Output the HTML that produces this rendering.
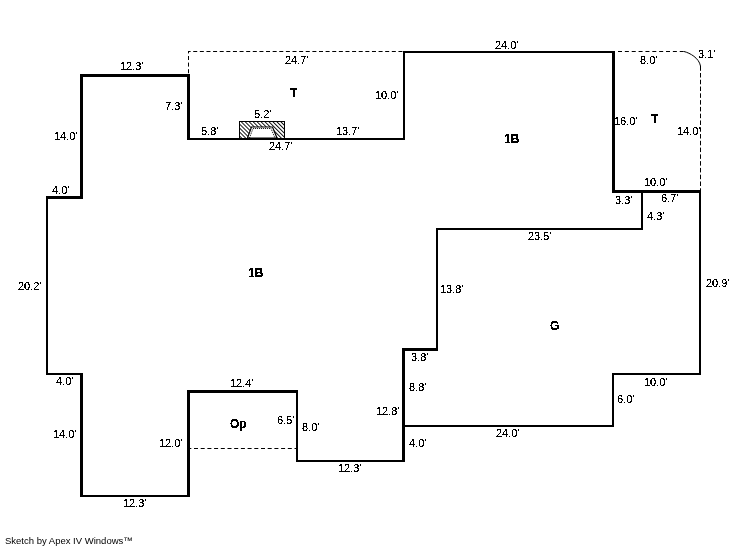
<!DOCTYPE html>
<html><head><meta charset="utf-8"><style>
html,body{margin:0;padding:0;background:#fff;width:746px;height:547px;overflow:hidden;position:relative}
.l{position:absolute;background:#000}
.t{position:absolute;line-height:13px;white-space:nowrap;color:#000;font-family:"Liberation Sans",sans-serif}
svg.d{position:absolute;left:0;top:0}
</style></head><body>

<svg class="d" width="746" height="547" viewBox="0 0 746 547">
<defs>
<pattern id="h" patternUnits="userSpaceOnUse" width="2.8" height="2.8" patternTransform="rotate(-45)">
<rect x="0" y="0" width="0.9" height="2.8" fill="#000"/>
</pattern>
</defs>
<g stroke="#000" stroke-width="1" fill="none">
<path d="M188 51.5 H403" stroke-dasharray="4 2.62" stroke-dashoffset="1.4"/>
<path d="M188.5 51 V74" stroke-dasharray="4 2.6" stroke-dashoffset="1.6"/>
<path d="M618 51.5 H684" stroke-dasharray="4 2.86"/>
<path d="M684 51.5 C690 53 699 58 700.5 66 V70.8"/>
<path d="M700.5 73 V190" stroke-dasharray="4.5 2.28"/>
<path d="M187.3 448.5 H296" stroke-dasharray="4 2.7"/>
</g>
<rect x="239.5" y="121.5" width="45" height="17" fill="url(#h)" stroke="#000" stroke-width="1"/>
<path d="M247.5 138 L251.5 127 H272.5 L277 138 Z" fill="#fff" stroke="#000" stroke-width="1.2"/>
<path d="M249.5 138 L253 128.5 H271 L275 138" fill="none" stroke="#000" stroke-width="1" stroke-dasharray="1 1"/>
</svg>

<div class="l" style="left:80px;top:74px;width:110px;height:3px"></div>
<div class="l" style="left:187px;top:74px;width:3px;height:66px"></div>
<div class="l" style="left:187px;top:138px;width:218px;height:2px"></div>
<div class="l" style="left:403px;top:51px;width:2px;height:89px"></div>
<div class="l" style="left:403px;top:51px;width:212px;height:2px"></div>
<div class="l" style="left:612px;top:51px;width:3px;height:142px"></div>
<div class="l" style="left:612px;top:190px;width:89px;height:3px"></div>
<div class="l" style="left:699px;top:190px;width:2px;height:185px"></div>
<div class="l" style="left:612px;top:373px;width:89px;height:2px"></div>
<div class="l" style="left:612px;top:373px;width:2px;height:54px"></div>
<div class="l" style="left:402px;top:425px;width:212px;height:2px"></div>
<div class="l" style="left:402px;top:348px;width:3px;height:114px"></div>
<div class="l" style="left:402px;top:348px;width:36px;height:3px"></div>
<div class="l" style="left:436px;top:228px;width:2px;height:123px"></div>
<div class="l" style="left:436px;top:228px;width:207px;height:2px"></div>
<div class="l" style="left:641px;top:190px;width:2px;height:40px"></div>
<div class="l" style="left:296px;top:460px;width:109px;height:2px"></div>
<div class="l" style="left:296px;top:390px;width:2px;height:72px"></div>
<div class="l" style="left:187px;top:390px;width:111px;height:3px"></div>
<div class="l" style="left:187px;top:390px;width:3px;height:107px"></div>
<div class="l" style="left:80px;top:495px;width:110px;height:2px"></div>
<div class="l" style="left:80px;top:373px;width:3px;height:124px"></div>
<div class="l" style="left:46px;top:373px;width:37px;height:2px"></div>
<div class="l" style="left:46px;top:196px;width:2px;height:179px"></div>
<div class="l" style="left:46px;top:196px;width:37px;height:3px"></div>
<div class="l" style="left:80px;top:74px;width:3px;height:125px"></div>
<svg width="0" height="0" style="position:absolute"><filter id="th" x="0" y="0" width="100%" height="100%"><feComponentTransfer><feFuncA type="discrete" tableValues="0 0 1 1 1"/></feComponentTransfer></filter></svg>
<div id="tx" style="position:absolute;left:0;top:0;width:746px;height:547px;filter:url(#th)">
<div class="t" style="left:120px;top:60px;font-size:11px;">12.3'</div>
<div class="t" style="left:165px;top:100px;font-size:11px;">7.3'</div>
<div class="t" style="left:54px;top:130px;font-size:11px;">14.0'</div>
<div class="t" style="left:52px;top:184px;font-size:11px;">4.0'</div>
<div class="t" style="left:18px;top:280px;font-size:11px;">20.2'</div>
<div class="t" style="left:56px;top:375px;font-size:11px;">4.0'</div>
<div class="t" style="left:53px;top:428px;font-size:11px;">14.0'</div>
<div class="t" style="left:123px;top:497px;font-size:11px;">12.3'</div>
<div class="t" style="left:201px;top:125px;font-size:11px;">5.8'</div>
<div class="t" style="left:254px;top:108px;font-size:11px;">5.2'</div>
<div class="t" style="left:285px;top:54px;font-size:11px;">24.7'</div>
<div class="t" style="left:269px;top:140px;font-size:11px;">24.7'</div>
<div class="t" style="left:336px;top:125px;font-size:11px;">13.7'</div>
<div class="t" style="left:375px;top:89px;font-size:11px;">10.0'</div>
<div class="t" style="left:495px;top:39px;font-size:11px;">24.0'</div>
<div class="t" style="left:614px;top:115px;font-size:11px;">16.0'</div>
<div class="t" style="left:640px;top:54px;font-size:11px;">8.0'</div>
<div class="t" style="left:698px;top:48px;font-size:11px;">3.1'</div>
<div class="t" style="left:677px;top:125px;font-size:11px;">14.0'</div>
<div class="t" style="left:644px;top:176px;font-size:11px;">10.0'</div>
<div class="t" style="left:615px;top:194px;font-size:11px;">3.3'</div>
<div class="t" style="left:661px;top:192px;font-size:11px;">6.7'</div>
<div class="t" style="left:647px;top:210px;font-size:11px;">4.3'</div>
<div class="t" style="left:528px;top:230px;font-size:11px;">23.5'</div>
<div class="t" style="left:706px;top:277px;font-size:11px;">20.9'</div>
<div class="t" style="left:440px;top:283px;font-size:11px;">13.8'</div>
<div class="t" style="left:411px;top:351px;font-size:11px;">3.8'</div>
<div class="t" style="left:409px;top:381px;font-size:11px;">8.8'</div>
<div class="t" style="left:376px;top:405px;font-size:11px;">12.8'</div>
<div class="t" style="left:409px;top:437px;font-size:11px;">4.0'</div>
<div class="t" style="left:644px;top:376px;font-size:11px;">10.0'</div>
<div class="t" style="left:617px;top:393px;font-size:11px;">6.0'</div>
<div class="t" style="left:496px;top:427px;font-size:11px;">24.0'</div>
<div class="t" style="left:338px;top:462px;font-size:11px;">12.3'</div>
<div class="t" style="left:230px;top:377px;font-size:11px;">12.4'</div>
<div class="t" style="left:277px;top:414px;font-size:11px;">6.5'</div>
<div class="t" style="left:302px;top:421px;font-size:11px;">8.0'</div>
<div class="t" style="left:159px;top:437px;font-size:11px;">12.0'</div>
<div class="t" style="left:290px;top:87px;font-size:12px;font-weight:bold;">T</div>
<div class="t" style="left:504px;top:133px;font-size:12px;font-weight:bold;">1B</div>
<div class="t" style="left:651px;top:113px;font-size:12px;font-weight:bold;">T</div>
<div class="t" style="left:248px;top:267px;font-size:12px;font-weight:bold;">1B</div>
<div class="t" style="left:550px;top:320px;font-size:12px;font-weight:bold;">G</div>
<div class="t" style="left:230px;top:418px;font-size:12px;font-weight:bold;">Op</div>
</div>
<div class="t" style="left:5px;top:534px;will-change:transform;font-size:9.5px;">Sketch by Apex IV Windows&#8482;</div>
</body></html>
